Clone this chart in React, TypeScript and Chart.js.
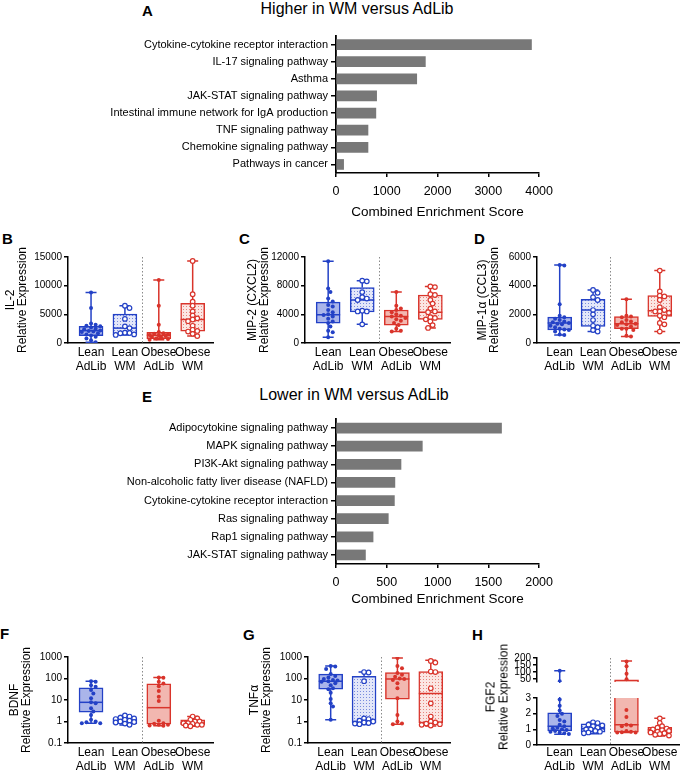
import React, { useEffect, useRef } from 'react';
import { Chart, registerables } from 'chart.js';
Chart.register(...registerables);

const FONT = "'Liberation Sans', Arial, Helvetica, sans-serif";
const BLACK = '#000';
const BLUE = '#2341c6';
const RED = '#d9342b';
const BLUE_FILL = '#aab5ea';
const RED_FILL = '#f2b7b0';
const BAR_GRAY = '#787878';

// ---------- Panel A / E data ----------
const higherPathways = [
  'Cytokine-cytokine receptor interaction',
  'IL-17 signaling pathway',
  'Asthma',
  'JAK-STAT signaling pathway',
  'Intestinal immune network for IgA production',
  'TNF signaling pathway',
  'Chemokine signaling pathway',
  'Pathways in cancer',
];
const higherScores = [3850, 1760, 1590, 800, 785, 630, 630, 150];

const lowerPathways = [
  'Adipocytokine signaling pathway',
  'MAPK signaling pathway',
  'PI3K-Akt signaling pathway',
  'Non-alcoholic fatty liver disease (NAFLD)',
  'Cytokine-cytokine receptor interaction',
  'Ras signaling pathway',
  'Rap1 signaling pathway',
  'JAK-STAT signaling pathway',
];
const lowerScores = [1630, 850, 640, 580, 575, 515, 365, 290];

// ---------- Box plot groups ----------
const groupLabels = [['Lean', 'AdLib'], ['Lean', 'WM'], ['Obese', 'AdLib'], ['Obese', 'WM']];

// B: IL-2
const il2LeanAdLib = [8800, 6100, 3400, 3200, 3000, 2900, 2700, 2500, 2400, 2200, 2100, 2000, 1900, 1700, 1500, 1300, 1100, 800, 500, 150];
const il2LeanWM = [6500, 6100, 4200, 2900, 2600, 1800, 1750, 1700, 1500, 1400];
const il2ObeseAdLib = [11000, 6500, 3200, 1900, 1700, 1600, 1500, 1400, 1300, 1200, 1100, 1000, 800, 700, 550];
const il2ObeseWM = [14300, 8500, 7200, 6500, 5500, 4800, 4300, 4100, 3800, 3000, 2300, 2100, 2000, 1600, 1200];
const il2Stats = [[150, 1300, 2150, 2900, 8800], [1400, 1450, 2600, 5050, 6500], [550, 750, 1350, 1850, 11000], [1200, 2050, 4100, 6900, 14300]];

// C: MIP-2
const mip2LeanAdLib = [11400, 7600, 7100, 6200, 5800, 5300, 5100, 4600, 4300, 4000, 3900, 3700, 3400, 3000, 2800, 2300, 1700, 1500, 800];
const mip2LeanWM = [8700, 8600, 7100, 6400, 6200, 6000, 4500, 4400, 4400, 2600];
const mip2ObeseAdLib = [7100, 5200, 4800, 4600, 4300, 4000, 3800, 3700, 3500, 3300, 3100, 2800, 2500, 2000, 1700, 1600];
const mip2ObeseWM = [7900, 7800, 6800, 6700, 6000, 5500, 4800, 4400, 4300, 3600, 3500, 3300, 3000, 2500, 2100];
const mip2Stats = [[800, 2750, 3950, 5700, 11400], [2600, 4350, 6000, 7750, 8700], [1600, 2500, 3700, 4600, 7100], [2100, 3300, 4300, 6700, 7900]];

// D: MIP-1a
const mip1LeanAdLib = [5450, 5400, 2700, 1900, 1800, 1700, 1600, 1500, 1450, 1400, 1350, 1300, 1200, 1100, 1000, 950, 900, 800, 600, 550];
const mip1LeanWM = [3700, 3500, 3200, 3000, 2300, 2000, 1600, 1200, 1100, 900, 800];
const mip1ObeseAdLib = [3050, 1900, 1850, 1800, 1600, 1500, 1450, 1350, 1300, 1250, 1150, 1000, 1000, 900, 500, 450];
const mip1ObeseWM = [5050, 3600, 3300, 3250, 3000, 2500, 2300, 2200, 2200, 2100, 1900, 1800, 1400, 1300, 800];
const mip1Stats = [[550, 920, 1400, 1800, 5450], [800, 1150, 2300, 3050, 3700], [450, 1000, 1350, 1850, 3050], [800, 1850, 2250, 3300, 5050]];

// F: BDNF
const bdnfLeanAdLib = [75, 70, 49, 41, 29, 20, 12, 7.8, 7, 4.1, 2.9, 2.0, 1.2, 1.0, 0.93, 0.84, 0.84];
const bdnfLeanWM = [1.9, 1.7, 1.5, 1.4, 1.3, 1.2, 1.1, 1.0, 0.95, 0.9, 0.8, 0.7];
const bdnfObeseAdLib = [112, 108, 70, 59, 44, 26, 14, 9, 1.07, 0.84, 0.78, 0.7, 0.7, 0.65, 0.63];
const bdnfObeseWM = [1.7, 1.4, 1.2, 1.0, 1.0, 0.84, 0.84, 0.78, 0.7, 0.7, 0.65, 0.6];
const bdnfStats = [[0.84, 2.7, 7.8, 37, 75], [0.68, 0.8, 1.0, 1.35, 1.9], [0.63, 0.75, 4.4, 57, 112], [0.6, 0.72, 0.85, 1.2, 1.7]];

// G: TNFa
const tnfLeanAdLib = [380, 360, 280, 160, 130, 110, 95, 85, 80, 75, 70, 60, 49, 35, 32, 22, 11, 7, 5, 1.2];
const tnfLeanWM = [200, 190, 75, 1.4, 1.3, 1.1, 1.0, 0.9, 0.85, 0.8, 0.75];
const tnfObeseAdLib = [900, 380, 300, 180, 150, 120, 100, 95, 85, 60, 35, 12, 2.0, 1.0, 0.8, 0.75];
const tnfObeseWM = [650, 550, 210, 200, 35, 7, 1.7, 1.0, 0.9, 0.8, 0.75, 0.7, 0.65];
const tnfStats = [[1.2, 32, 75, 160, 380], [0.72, 0.85, 1.0, 125, 200], [0.75, 11, 95, 190, 900], [0.62, 0.85, 20, 210, 700]];

// H: FGF2 (broken axis)
const fgfLeanAdLib = [110, 36, 2.9, 2.5, 2.2, 2.0, 1.85, 1.6, 1.5, 1.3, 1.2, 1.1, 1.05, 1.0, 0.95, 0.9, 0.85, 0.8, 0.75, 0.7];
const fgfLeanWM = [1.45, 1.4, 1.3, 1.25, 1.2, 1.1, 1.0, 1.0, 0.9, 0.85, 0.8, 0.75];
const fgfObeseAdLib = [175, 142, 89, 50, 2.24, 1.78, 1.3, 1.25, 1.2, 0.9, 0.85, 0.82, 0.8, 0.8];
const fgfObeseWM = [1.7, 1.4, 1.2, 1.1, 1.05, 1.0, 0.95, 0.9, 0.85, 0.8, 0.75, 0.7, 0.65, 0.6];
const fgfStats = [[0.68, 0.9, 1.2, 2.05, 110], [0.72, 0.82, 1.05, 1.35, 1.45], [0.8, 0.82, 1.3, 45, 178], [0.58, 0.75, 0.98, 1.12, 1.7]];
const FGF_BREAK = 3;

// ---------- helpers ----------
type Geo = { left: number; top: number; width: number; height: number; yWidth: number; padTop: number; padRight: number; padBottom: number; xHeight: number };

function stipple(color: string, bg: string) {
  const c = document.createElement('canvas');
  c.width = 3; c.height = 3;
  const g = c.getContext('2d')!;
  g.fillStyle = bg; g.fillRect(0, 0, 3, 3);
  g.fillStyle = color; g.globalAlpha = 0.55; g.fillRect(0, 0, 1, 1);
  return g.createPattern(c, 'repeat')!;
}

// deterministic beeswarm: spread points sideways when they would overlap
function swarm(vals: number[], yPx: (v: number) => number, unitPx: number): number[] {
  const D = 3.8, STEP = 2.3, LIM = 10;
  const order = vals.map((_, i) => i).sort((a, b) => vals[b] - vals[a]);
  const placed: [number, number][] = [];
  const out = new Array(vals.length).fill(0);
  for (const i of order) {
    const py = yPx(vals[i]);
    let best = 0, bestScore = -1;
    for (let k = 0; k < 40; k++) {
      const m = Math.ceil(k / 2) * (k % 2 ? 1 : -1);
      const cand = m * STEP;
      if (Math.abs(cand) > LIM) break;
      let score = Infinity;
      for (const [qx, qy] of placed) score = Math.min(score, Math.hypot(qx - cand, qy - py));
      if (score >= D) { best = cand; bestScore = score; break; }
      if (score > bestScore) { bestScore = score; best = cand; }
    }
    placed.push([best, py]);
    out[i] = best / unitPx;
  }
  return out;
}

function makeBoxPlugin(stats: number[][], colors: string[], sepMode: 'area' | 'down' | 'up') {
  const CAP = 5.5;
  const HALF = 12;
  return {
    id: 'boxWhisker',
    beforeDatasetsDraw(chart: any) {
      const { ctx, chartArea: a } = chart;
      const x = chart.scales.x, y = chart.scales.y;
      ctx.save();
      const sx = Math.round(x.getPixelForValue(1.5)) + 0.5;
      ctx.strokeStyle = '#8a8a8a'; ctx.lineWidth = 1; ctx.setLineDash([1.5, 2]);
      ctx.beginPath();
      ctx.moveTo(sx, sepMode === 'up' ? 0 : a.top);
      ctx.lineTo(sx, sepMode === 'down' ? chart.height : a.bottom);
      ctx.stroke();
      ctx.setLineDash([]);
      ctx.beginPath(); ctx.rect(a.left, a.top - 1, a.right - a.left, a.bottom - a.top + 2); ctx.clip();
      stats.forEach((s, i) => {
        const cx = x.getPixelForValue(i);
        const pMax = y.getPixelForValue(s[4]);
        const pMin = y.getPixelForValue(s[0]);
        ctx.strokeStyle = colors[i]; ctx.lineWidth = 1.5;
        ctx.beginPath();
        ctx.moveTo(cx, y.getPixelForValue(s[3])); ctx.lineTo(cx, pMax);
        ctx.moveTo(cx, y.getPixelForValue(s[1])); ctx.lineTo(cx, pMin);
        ctx.moveTo(cx - CAP, pMax); ctx.lineTo(cx + CAP, pMax);
        ctx.moveTo(cx - CAP, pMin); ctx.lineTo(cx + CAP, pMin);
        ctx.stroke();
      });
      ctx.restore();
    },
    afterDatasetDraw(chart: any, args: any) {
      if (args.meta.type !== 'bar') return;
      const { ctx, chartArea: a } = chart;
      const x = chart.scales.x, y = chart.scales.y;
      ctx.save();
      ctx.beginPath(); ctx.rect(a.left, a.top, a.right - a.left, a.bottom - a.top); ctx.clip();
      stats.forEach((s, i) => {
        const cx = x.getPixelForValue(i);
        const py = y.getPixelForValue(s[2]);
        ctx.strokeStyle = colors[i]; ctx.lineWidth = 1.5;
        ctx.beginPath(); ctx.moveTo(cx - HALF, py); ctx.lineTo(cx + HALF, py); ctx.stroke();
      });
      ctx.restore();
    },
  };
}

type BoxSpec = {
  geo: Geo;
  groups: number[][];
  stats: number[][];
  yType: 'linear' | 'logarithmic';
  yMin: number; yMax: number; yTicks: number[];
  yTitle: string[] | null; titlePad: number;
  showX: boolean; xPad: number; tickFont: number;
  sepMode: 'area' | 'down' | 'up';
};

const X_MIN = -0.68, X_MAX = 3.6;

function buildBox(spec: BoxSpec) {
  const g = spec.geo;
  const areaW = g.width - g.yWidth - g.padRight;
  const areaH = g.height - g.padTop - (spec.showX ? g.xHeight : g.padBottom);
  const unitPx = areaW / (X_MAX - X_MIN);
  const lg = Math.log10;
  const yPx = (v: number) => spec.yType === 'logarithmic'
    ? (lg(v) - lg(spec.yMin)) / (lg(spec.yMax) - lg(spec.yMin)) * areaH
    : (v - spec.yMin) / (spec.yMax - spec.yMin) * areaH;
  const colors = [BLUE, BLUE, RED, RED];
  const fills = [BLUE_FILL, stipple(BLUE, '#e3e7f9'), RED_FILL, stipple(RED, '#fbe6e3')];
  const datasets: any[] = [
    {
      type: 'bar',
      data: spec.stats.map((s, i) => ({ x: i, y: [s[1], s[3]] })),
      backgroundColor: fills,
      borderColor: colors,
      borderWidth: 1.5,
      borderSkipped: false,
      barThickness: 24,
      order: 2,
      clip: 0,
    },
    ...spec.groups.map((vals, i) => {
      const offs = swarm(vals, yPx, unitPx);
      const open = i % 2 === 1;
      return {
        type: 'scatter',
        data: vals.map((v, j) => ({ x: i + offs[j], y: v })),
        pointRadius: open ? 2.3 : 2.0,
        pointBackgroundColor: open ? '#fff' : colors[i],
        pointBorderColor: colors[i],
        pointBorderWidth: open ? 1.2 : 0,
        order: 1,
      };
    }),
  ];
  return {
    type: 'bar',
    data: { datasets },
    plugins: [makeBoxPlugin(spec.stats, colors, spec.sepMode)],
    options: {
      responsive: false,
      animation: false,
      events: [],
      layout: { padding: { top: g.padTop, right: g.padRight, bottom: spec.showX ? 0 : g.padBottom, left: 0 } },
      plugins: { legend: { display: false }, tooltip: { enabled: false } },
      scales: {
        x: {
          type: 'linear', min: X_MIN, max: X_MAX, offset: false, display: spec.showX,
          afterBuildTicks: (s: any) => { s.ticks = [0, 1, 2, 3].map((v) => ({ value: v })); },
          ticks: { callback: (v: any) => groupLabels[v], color: BLACK, font: { family: FONT, size: 12, lineHeight: 1.15 }, padding: spec.xPad, autoSkip: false, maxRotation: 0, minRotation: 0 },
          grid: { display: false, drawTicks: false, offset: false },
          border: { display: true, color: BLACK, width: 1.5 },
          afterFit: (s: any) => { s.height = g.xHeight; },
        },
        y: {
          type: spec.yType, min: spec.yMin, max: spec.yMax,
          afterBuildTicks: (s: any) => { s.ticks = spec.yTicks.map((v) => ({ value: v })); },
          ticks: { callback: (v: any) => String(v), color: BLACK, font: { family: FONT, size: spec.tickFont }, padding: 2, autoSkip: false },
          grid: { drawOnChartArea: false, drawTicks: true, tickLength: 4, color: BLACK, lineWidth: 1.5 },
          border: { display: true, color: BLACK, width: 1.5 },
          title: { display: !!spec.yTitle, text: spec.yTitle || '', color: BLACK, font: { family: FONT, size: 12, lineHeight: 1.05 }, padding: { top: spec.titlePad, bottom: 0 } },
          afterFit: (s: any) => { s.width = g.yWidth; },
        },
      },
    },
  };
}

function buildBars(labels: string[], values: number[], max: number, step: number, g: Geo, titlePadBottom: number) {
  return {
    type: 'bar',
    data: { labels, datasets: [{ data: values, backgroundColor: BAR_GRAY, barThickness: 10 }] },
    options: {
      indexAxis: 'y',
      responsive: false,
      animation: false,
      events: [],
      layout: { padding: { top: g.padTop, right: g.padRight, bottom: 0, left: 0 } },
      plugins: { legend: { display: false }, tooltip: { enabled: false } },
      scales: {
        x: {
          type: 'linear', min: 0, max,
          ticks: { stepSize: step, color: BLACK, font: { family: FONT, size: 12.5 }, padding: 7, callback: (v: any) => String(v) },
          grid: { drawOnChartArea: false, drawTicks: true, tickLength: 4, color: BLACK, lineWidth: 1.5 },
          border: { display: true, color: BLACK, width: 1.5 },
          title: { display: true, text: 'Combined Enrichment Score', color: BLACK, font: { family: FONT, size: 13.5 }, padding: { top: 0, bottom: titlePadBottom } },
          afterFit: (s: any) => { s.height = g.xHeight; },
        },
        y: {
          type: 'category', offset: true,
          ticks: { color: BLACK, font: { family: FONT, size: 11 }, padding: 3, autoSkip: false },
          grid: { offset: false, drawOnChartArea: false, drawTicks: true, tickLength: 5, color: BLACK, lineWidth: 1.5 },
          border: { display: true, color: BLACK, width: 1.8 },
          afterFit: (s: any) => { s.width = g.yWidth; },
        },
      },
    },
  };
}

function Panel({ geo, build }: { geo: Geo; build: () => any }) {
  const ref = useRef<HTMLCanvasElement>(null);
  useEffect(() => {
    const chart = new Chart(ref.current as HTMLCanvasElement, build());
    return () => chart.destroy();
  }, []);
  return (
    <canvas
      ref={ref}
      width={geo.width}
      height={geo.height}
      style={{ position: 'absolute', left: geo.left, top: geo.top, width: geo.width, height: geo.height }}
    />
  );
}

function Txt({ x, y, children, size, bold, center }: { x: number; y: number; children: React.ReactNode; size: number; bold?: boolean; center?: boolean }) {
  return (
    <div style={{
      position: 'absolute', left: x, top: y, transform: center ? 'translate(-50%, -50%)' : 'translate(0, -50%)',
      fontFamily: FONT, fontSize: size, fontWeight: bold ? 700 : 400, lineHeight: 1, whiteSpace: 'nowrap', color: BLACK,
    }}>{children}</div>
  );
}

// geometry
const geoA: Geo = { left: 0, top: 25, width: 560, height: 200, yWidth: 336, padTop: 11, padRight: 18, padBottom: 0, xHeight: 52 };
const geoE: Geo = { left: 0, top: 405, width: 560, height: 205, yWidth: 336, padTop: 14, padRight: 10, padBottom: 0, xHeight: 46 };
const geoB: Geo = { left: 0, top: 228, width: 228, height: 155, yWidth: 68, padTop: 29, padRight: 15, padBottom: 0, xHeight: 40 };
const geoC: Geo = { left: 228, top: 228, width: 228, height: 155, yWidth: 77, padTop: 29, padRight: 4, padBottom: 0, xHeight: 40 };
const geoD: Geo = { left: 456, top: 228, width: 229, height: 155, yWidth: 81, padTop: 29, padRight: 5, padBottom: 0, xHeight: 40 };
const geoF: Geo = { left: 0, top: 628, width: 228, height: 142, yWidth: 68, padTop: 29, padRight: 15, padBottom: 0, xHeight: 27 };
const geoG: Geo = { left: 228, top: 628, width: 228, height: 142, yWidth: 80, padTop: 29, padRight: 4, padBottom: 0, xHeight: 27 };
const geoHup: Geo = { left: 456, top: 640, width: 229, height: 50, yWidth: 81, padTop: 18, padRight: 5, padBottom: 4, xHeight: 0 };
const geoHlo: Geo = { left: 456, top: 690, width: 229, height: 80, yWidth: 81, padTop: 6, padRight: 5, padBottom: 0, xHeight: 25 };

const fgfGroups = [fgfLeanAdLib, fgfLeanWM, fgfObeseAdLib, fgfObeseWM];

export default function App() {
  return (
    <div style={{ position: 'absolute', left: 0, top: 0, width: 685, height: 770, background: '#fff', overflow: 'hidden' }}>
      <Txt x={142} y={10} size={15} bold>A</Txt>
      <Txt x={357} y={9} size={16} center>Higher in WM versus AdLib</Txt>
      <Panel geo={geoA} build={() => buildBars(higherPathways, higherScores, 4000, 1000, geoA, 5)} />

      <Txt x={2} y={238} size={15} bold>B</Txt>
      <Txt x={239} y={238} size={15} bold>C</Txt>
      <Txt x={474} y={238} size={15} bold>D</Txt>
      <Panel geo={geoB} build={() => buildBox({ geo: geoB, groups: [il2LeanAdLib, il2LeanWM, il2ObeseAdLib, il2ObeseWM], stats: il2Stats, yType: 'linear', yMin: 0, yMax: 15000, yTicks: [0, 5000, 10000, 15000], yTitle: ['IL-2', 'Relative Expression'], titlePad: 4, showX: true, xPad: 3, tickFont: 10, sepMode: 'area' })} />
      <Panel geo={geoC} build={() => buildBox({ geo: geoC, groups: [mip2LeanAdLib, mip2LeanWM, mip2ObeseAdLib, mip2ObeseWM], stats: mip2Stats, yType: 'linear', yMin: 0, yMax: 12000, yTicks: [0, 4000, 8000, 12000], yTitle: ['MIP-2 (CXCL2)', 'Relative Expression'], titlePad: 18, showX: true, xPad: 3, tickFont: 10, sepMode: 'area' })} />
      <Panel geo={geoD} build={() => buildBox({ geo: geoD, groups: [mip1LeanAdLib, mip1LeanWM, mip1ObeseAdLib, mip1ObeseWM], stats: mip1Stats, yType: 'linear', yMin: 0, yMax: 6000, yTicks: [0, 2000, 4000, 6000], yTitle: ['MIP-1α (CCL3)', 'Relative Expression'], titlePad: 20, showX: true, xPad: 3, tickFont: 10, sepMode: 'area' })} />

      <Txt x={142} y={396} size={15} bold>E</Txt>
      <Txt x={354} y={395} size={16} center>Lower in WM versus AdLib</Txt>
      <Panel geo={geoE} build={() => buildBars(lowerPathways, lowerScores, 2000, 500, geoE, 3)} />

      <Txt x={0} y={633} size={15} bold>F</Txt>
      <Txt x={243} y={634} size={15} bold>G</Txt>
      <Txt x={472} y={634} size={15} bold>H</Txt>
      <Panel geo={geoF} build={() => buildBox({ geo: geoF, groups: [bdnfLeanAdLib, bdnfLeanWM, bdnfObeseAdLib, bdnfObeseWM], stats: bdnfStats, yType: 'logarithmic', yMin: 0.1, yMax: 1000, yTicks: [0.1, 1, 10, 100, 1000], yTitle: ['BDNF', 'Relative Expression'], titlePad: 8, showX: true, xPad: 3, tickFont: 10, sepMode: 'area' })} />
      <Panel geo={geoG} build={() => buildBox({ geo: geoG, groups: [tnfLeanAdLib, tnfLeanWM, tnfObeseAdLib, tnfObeseWM], stats: tnfStats, yType: 'logarithmic', yMin: 0.1, yMax: 1000, yTicks: [0.1, 1, 10, 100, 1000], yTitle: ['TNFα', 'Relative Expression'], titlePad: 20, showX: true, xPad: 3, tickFont: 10, sepMode: 'area' })} />
      <Panel geo={geoHup} build={() => buildBox({ geo: geoHup, groups: fgfGroups.map((g) => g.filter((v) => v > FGF_BREAK)), stats: fgfStats, yType: 'linear', yMin: 30, yMax: 200, yTicks: [50, 100, 150, 200], yTitle: null, titlePad: 0, showX: false, xPad: 0, tickFont: 10, sepMode: 'down' })} />
      <Panel geo={geoHlo} build={() => buildBox({ geo: geoHlo, groups: fgfGroups.map((g) => g.filter((v) => v <= FGF_BREAK)), stats: fgfStats, yType: 'linear', yMin: 0, yMax: 3, yTicks: [0, 1, 2, 3], yTitle: null, titlePad: 0, showX: true, xPad: 1, tickFont: 10, sepMode: 'up' })} />
      <div style={{
        position: 'absolute', left: 497, top: 697, transform: 'translate(-50%, -50%) rotate(-90deg)',
        fontFamily: FONT, fontSize: 12, lineHeight: '12.5px', whiteSpace: 'nowrap', textAlign: 'center', color: BLACK,
      }}>FGF2<br />Relative Expression</div>
    </div>
  );
}
